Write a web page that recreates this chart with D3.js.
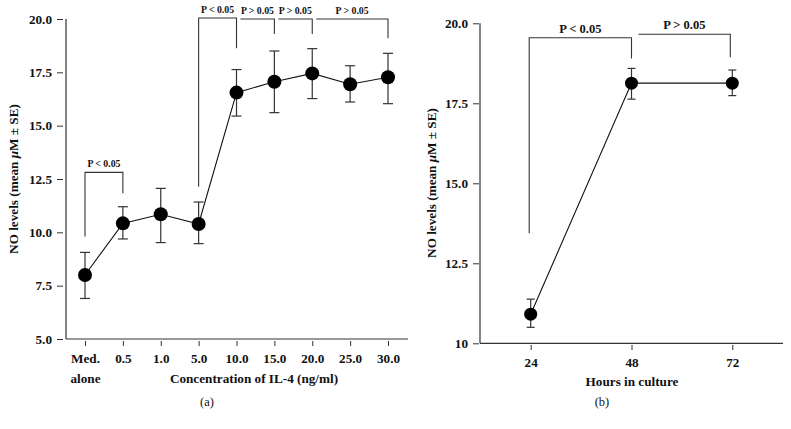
<!DOCTYPE html>
<html><head><meta charset="utf-8">
<script src="https://cdn.jsdelivr.net/npm/d3@7/dist/d3.min.js"></script>
<style>
body{margin:0;background:#fff;}
svg{display:block;}
text{font-family:"Liberation Serif","DejaVu Serif",serif;fill:#111;}
</style></head>
<body>
<svg id="c" width="791" height="429"></svg>
<script>
// Panel (a)
const aCategories = ["Med.|alone","0.5","1.0","5.0","10.0","15.0","20.0","25.0","30.0"];
const aMeans = [8.0,10.42,10.85,10.39,16.55,17.06,17.45,16.94,17.27];
const aUpper = [9.06,11.2,12.06,11.42,17.63,18.5,18.61,17.81,18.39];
const aLower = [6.9,9.69,9.52,9.47,15.45,15.61,16.27,16.11,16.03];
const aYTicks = [5,7.5,10,12.5,15,17.5,20];
const aYTickLabels = ["5.0","7.5","10.0","12.5","15.0","17.5","20.0"];
// brackets: from category, to category, label, top value, left leg end, right leg end
const aBrFrom = [0,3,4,5,6];
const aBrTo = [1,4,5,6,8];
const aBrLabel = ["P < 0.05","P < 0.05","P > 0.05","P > 0.05","P > 0.05"];
const aBrTop = [12.81,20.05,20.0,20.0,20.0];
const aBrLeftEnd = [9.8,12.14,null,null,null];
const aBrRightEnd = [11.83,18.63,19.3,19.3,19.1];

// Panel (b)
const bHours = [24,48,72];
const bMeans = [10.91,18.13,18.13];
const bUpper = [11.38,18.59,18.54];
const bLower = [10.5,17.63,17.74];
const bYTicks = [10,12.5,15,17.5,20];
const bYTickLabels = ["10","12.5","15.0","17.5","20.0"];
const bBrFrom = [24,48];
const bBrTo = [48,72];
const bBrLabel = ["P < 0.05","P > 0.05"];
const bBrTop = [19.55,19.66];
const bBrLeftEnd = [13.44,null];
const bBrRightEnd = [18.9,18.94];

const svg = d3.select("#c");
const ink = "#333";
const FS = 13.2;

// ---------- Panel A ----------
const ax = d3.scalePoint().domain(aCategories).range([85,388]);
const ay = d3.scaleLinear().domain([5,20]).range([339,19]);
const ga = svg.append("g");
ga.append("line").attr("x1",66).attr("x2",66).attr("y1",ay(20)).attr("y2",339).attr("stroke",ink).attr("stroke-width",1.2);
ga.append("line").attr("x1",66).attr("x2",408).attr("y1",339).attr("y2",339).attr("stroke",ink).attr("stroke-width",1.2);
const ayAxis = ga.append("g").attr("transform","translate(63,0)")
  .call(d3.axisLeft(ay).tickValues(aYTicks).tickFormat((d,i)=>aYTickLabels[i]).tickSizeInner(6).tickSizeOuter(0).tickPadding(5));
ayAxis.select(".domain").remove();
ayAxis.selectAll("line").attr("stroke",ink);
ayAxis.selectAll("text").attr("font-size",FS).attr("font-weight","bold").attr("font-family","Liberation Serif").attr("fill","#111");
const axAxis = ga.append("g").attr("transform","translate(0,341)")
  .call(d3.axisBottom(ax).tickSizeInner(5).tickSizeOuter(0).tickPadding(7).tickFormat(""));
axAxis.select(".domain").remove();
axAxis.selectAll("line").attr("stroke",ink);
axAxis.selectAll(".tick").each(function(d){
  const parts = d.split("|");
  const t = d3.select(this).append("text").attr("fill","#111").attr("font-size",FS).attr("font-weight","bold")
    .attr("font-family","Liberation Serif").attr("text-anchor","middle");
  parts.forEach((p,i)=>t.append("tspan").attr("x",0).attr("y",22+i*20).text(p));
});
ga.append("text").attr("x",254).attr("y",383).attr("text-anchor","middle").attr("font-size",FS).attr("font-weight","bold").text("Concentration of IL-4 (ng/ml)");
ga.append("text").attr("x",207).attr("y",406).attr("text-anchor","middle").attr("font-size",12.5).text("(a)");
ga.append("text").attr("transform","translate(18,179) rotate(-90)").attr("text-anchor","middle").attr("font-size",FS).attr("font-weight","bold")
  .html('NO levels (mean <tspan font-style="italic">μ</tspan>M ± SE)');
aCategories.forEach((c,i)=>{
  const x = ax(c);
  ga.append("line").attr("x1",x).attr("x2",x).attr("y1",ay(aUpper[i])).attr("y2",ay(aLower[i])).attr("stroke",ink).attr("stroke-width",1.2);
  [aUpper[i],aLower[i]].forEach(v=>ga.append("line").attr("x1",x-5).attr("x2",x+5).attr("y1",ay(v)).attr("y2",ay(v)).attr("stroke",ink).attr("stroke-width",1.2));
});
ga.append("path").datum(aMeans).attr("fill","none").attr("stroke","#111").attr("stroke-width",1.1)
  .attr("d",d3.line().x((d,i)=>ax(aCategories[i])).y(d=>ay(d)));
ga.selectAll("circle.a").data(aMeans).enter().append("circle").attr("cx",(d,i)=>ax(aCategories[i])).attr("cy",d=>ay(d)).attr("r",7).attr("fill","#000");
aBrLabel.forEach((lab,i)=>{
  const x1 = ax(aCategories[aBrFrom[i]]) + (aBrLeftEnd[i]===null?4:0);
  const x2 = ax(aCategories[aBrTo[i]]);
  const yt = ay(aBrTop[i]);
  let pts = [];
  if(aBrLeftEnd[i]!==null) pts.push([x1,ay(aBrLeftEnd[i])]);
  pts.push([x1,yt],[x2,yt],[x2,ay(aBrRightEnd[i])]);
  ga.append("path").attr("d",d3.line()(pts)).attr("fill","none").attr("stroke",ink).attr("stroke-width",1.1);
  ga.append("text").attr("x",(x1+x2)/2).attr("y",yt-5).attr("text-anchor","middle").attr("font-size",9.8).attr("font-weight","bold").text(lab);
});

// ---------- Panel B ----------
const bx = d3.scaleLinear().domain([24,72]).range([530.7,732.3]);
const by = d3.scaleLinear().domain([10,20]).range([343.3,23.3]);
const gb = svg.append("g");
gb.append("line").attr("x1",480).attr("x2",480).attr("y1",by(20)).attr("y2",by(10)).attr("stroke",ink).attr("stroke-width",1.2);
gb.append("line").attr("x1",480).attr("x2",783).attr("y1",by(10)).attr("y2",by(10)).attr("stroke",ink).attr("stroke-width",1.2);
const byAxis = gb.append("g").attr("transform","translate(479,0)")
  .call(d3.axisLeft(by).tickValues(bYTicks).tickFormat((d,i)=>bYTickLabels[i]).tickSizeInner(6).tickSizeOuter(0).tickPadding(5));
byAxis.select(".domain").remove();
byAxis.selectAll("line").attr("stroke",ink);
byAxis.selectAll("text").attr("font-size",FS).attr("font-weight","bold").attr("font-family","Liberation Serif").attr("fill","#111");
const bxAxis = gb.append("g").attr("transform","translate(0,345)")
  .call(d3.axisBottom(bx).tickValues(bHours).tickFormat(d3.format("d")).tickSizeInner(5).tickSizeOuter(0).tickPadding(8));
bxAxis.select(".domain").remove();
bxAxis.selectAll("line").attr("stroke",ink);
bxAxis.selectAll("text").attr("font-size",FS).attr("font-weight","bold").attr("font-family","Liberation Serif").attr("fill","#111");
gb.append("text").attr("x",632).attr("y",386).attr("text-anchor","middle").attr("font-size",FS).attr("font-weight","bold").text("Hours in culture");
gb.append("text").attr("x",602).attr("y",406).attr("text-anchor","middle").attr("font-size",12.5).text("(b)");
gb.append("text").attr("transform","translate(436,183) rotate(-90)").attr("text-anchor","middle").attr("font-size",FS).attr("font-weight","bold")
  .html('NO levels (mean <tspan font-style="italic">μ</tspan>M ± SE)');
bHours.forEach((h,i)=>{
  const x = bx(h);
  gb.append("line").attr("x1",x).attr("x2",x).attr("y1",by(bUpper[i])).attr("y2",by(bLower[i])).attr("stroke",ink).attr("stroke-width",1.2);
  [bUpper[i],bLower[i]].forEach(v=>gb.append("line").attr("x1",x-4).attr("x2",x+4).attr("y1",by(v)).attr("y2",by(v)).attr("stroke",ink).attr("stroke-width",1.2));
});
gb.append("path").datum(bMeans).attr("fill","none").attr("stroke","#111").attr("stroke-width",1.1)
  .attr("d",d3.line().x((d,i)=>bx(bHours[i])).y(d=>by(d)));
gb.selectAll("circle.b").data(bMeans).enter().append("circle").attr("cx",(d,i)=>bx(bHours[i])).attr("cy",d=>by(d)).attr("r",6.5).attr("fill","#000");
bBrLabel.forEach((lab,i)=>{
  const x1 = bx(bBrFrom[i]) + (bBrLeftEnd[i]===null?7:-1.5);
  const x2 = bx(bBrTo[i]) + (bBrLeftEnd[i]===null?-2:0);
  const yt = by(bBrTop[i]);
  let pts = [];
  if(bBrLeftEnd[i]!==null) pts.push([x1,by(bBrLeftEnd[i])]);
  pts.push([x1,yt],[x2,yt],[x2,by(bBrRightEnd[i])]);
  gb.append("path").attr("d",d3.line()(pts)).attr("fill","none").attr("stroke",ink).attr("stroke-width",1.1);
  gb.append("text").attr("x",(x1+x2)/2).attr("y",yt-5).attr("text-anchor","middle").attr("font-size",12.5).attr("font-weight","bold").text(lab);
});
</script>
</body></html>
